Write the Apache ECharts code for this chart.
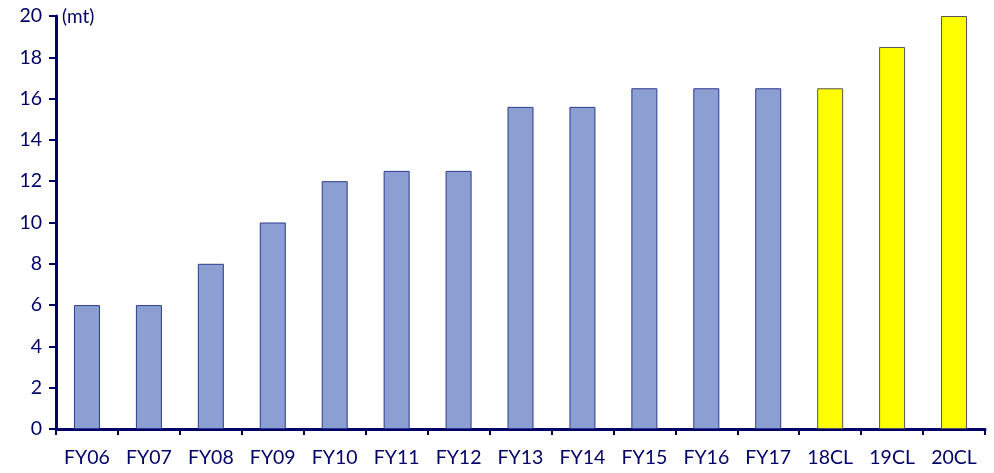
<!DOCTYPE html>
<html>
<head>
<meta charset="utf-8">
<script src="https://cdn.jsdelivr.net/npm/echarts@6/dist/echarts.min.js"></script>
<style>
  html, body { margin: 0; padding: 0; background: #fff; }
  #chart { width: 994px; height: 473px; }
</style>
</head>
<body>
<div id="chart"></div>
<script>
// Capacity by year, in million tonnes
const categories = ['FY06', 'FY07', 'FY08', 'FY09', 'FY10', 'FY11', 'FY12', 'FY13', 'FY14', 'FY15', 'FY16', 'FY17', '18CL', '19CL', '20CL'];
const capacity = [6, 6, 8, 10, 12, 12.5, 12.5, 15.6, 15.6, 16.5, 16.5, 16.5, 16.5, 18.5, 20];
// Projected years are drawn in yellow
const projected = ['18CL', '19CL', '20CL'];
const yTicks = { min: 0, max: 20, interval: 2 };

const navy = '#000066';
const font = 'Lato, "DejaVu Sans", sans-serif';

const chart = echarts.init(document.getElementById('chart'), null, { renderer: 'canvas' });

const barData = capacity.map((v, i) => {
  const isProj = projected.includes(categories[i]);
  return {
    value: v,
    itemStyle: isProj
      ? { color: '#ffff00', borderColor: '#555555', borderWidth: 1 }
      : { color: '#8b9fd3', borderColor: '#2e3a8c', borderWidth: 1 }
  };
});

chart.setOption({
  animation: false,
  grid: { left: 56, right: 9, top: 16, bottom: 44, containLabel: false },
  graphic: [{
    type: 'text',
    left: 62,
    top: 7,
    style: { text: '(mt)', font: '19px ' + font, fill: navy }
  }],
  xAxis: {
    type: 'category',
    data: categories,
    axisLine: { lineStyle: { color: navy, width: 3 } },
    axisTick: { show: true, length: 6, lineStyle: { color: navy, width: 2 } },
    axisLabel: { color: navy, fontSize: 19.5, fontFamily: font, margin: 19 }
  },
  yAxis: {
    type: 'value',
    min: yTicks.min,
    max: yTicks.max,
    interval: yTicks.interval,
    splitLine: { show: false },
    axisLine: { show: true, lineStyle: { color: navy, width: 3 } },
    axisTick: { show: true, length: 7, lineStyle: { color: navy, width: 2 } },
    axisLabel: { color: navy, fontSize: 19.5, fontFamily: font, margin: 14 }
  },
  series: [{
    type: 'bar',
    data: barData,
    barWidth: 26
  }]
});
</script>
</body>
</html>
